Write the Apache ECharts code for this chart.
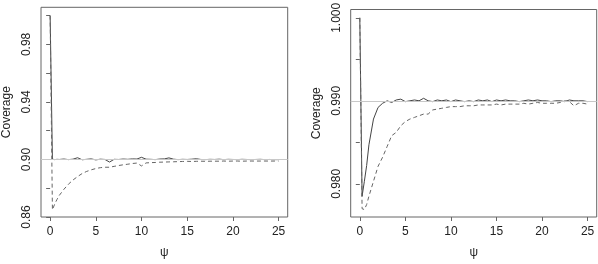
<!DOCTYPE html>
<html>
<head>
<meta charset="utf-8">
<script src="https://cdn.jsdelivr.net/npm/echarts@6/dist/echarts.min.js"></script>
<style>
html,body{margin:0;padding:0;background:#fff;}
#c{width:598px;height:264px;}
</style>
</head>
<body>
<div id="c"></div>
<script>
// psi grid shared by all curves
const psi = [0,0.25,0.5,0.75,1,1.5,2,2.5,3,3.5,4,4.5,5,5.5,6,6.5,7,7.5,8,8.5,9,9.5,10,10.5,11,11.5,12,12.5,13,13.5,14,14.5,15,15.5,16,16.5,17,17.5,18,18.5,19,19.5,20,20.5,21,21.5,22,22.5,23,23.5,24,24.5,25];

// Left panel (nominal 0.90)
const leftSolid = [1.0,0.9002,0.8999,0.9001,0.9000,0.9003,0.8999,0.9002,0.9012,0.8998,0.9001,0.9004,0.8997,0.9002,0.9000,0.8982,0.9001,0.9000,0.9003,0.9001,0.9004,0.9003,0.9015,0.9002,0.9001,0.8999,0.9003,0.9004,0.9011,0.9002,0.8999,0.9001,0.9000,0.9002,0.9005,0.9000,0.8999,0.9001,0.9000,0.9002,0.8999,0.9001,0.9000,0.8999,0.9001,0.9000,0.8999,0.9000,0.9001,0.8999,0.9000,0.8999,0.8999];
const leftDashed = [1.0,0.8650,0.8690,0.8722,0.8750,0.8792,0.8828,0.8857,0.8881,0.8902,0.8917,0.8928,0.8937,0.8943,0.8946,0.8946,0.8952,0.8958,0.8963,0.8967,0.8972,0.8975,0.8955,0.8976,0.8978,0.8979,0.8981,0.8982,0.8983,0.8984,0.8985,0.8986,0.8987,0.8986,0.8987,0.8988,0.8987,0.8988,0.8988,0.8988,0.8989,0.8988,0.8989,0.8989,0.8988,0.8989,0.8989,0.8989,0.8989,0.8989,0.8989,0.8989,0.8989];

// Right panel (nominal 0.99)
const rightSolid = [1.0,0.9785,0.9803,0.9822,0.9847,0.9878,0.9892,0.9897,0.9900,0.9898,0.9901,0.9902,0.9899,0.9900,0.9901,0.9900,0.9903,0.9900,0.9899,0.9901,0.9900,0.9901,0.9899,0.9901,0.9900,0.9899,0.9900,0.9899,0.9901,0.9900,0.9901,0.9899,0.9901,0.9900,0.9901,0.9900,0.9900,0.9899,0.9900,0.9901,0.9900,0.9901,0.9900,0.9900,0.9899,0.9900,0.9900,0.9899,0.9901,0.9900,0.9900,0.9900,0.9899];
const rightDashed = [1.0,0.9770,0.9769,0.9775,0.9785,0.9803,0.9821,0.9832,0.9845,0.9858,0.9862,0.9870,0.9875,0.9878,0.9880,0.9882,0.9884,0.9884,0.9889,0.9890,0.9891,0.9892,0.9893,0.9893,0.9893,0.9894,0.9894,0.9894,0.9895,0.9895,0.9895,0.9895,0.9896,0.9895,0.9896,0.9896,0.9896,0.9896,0.9897,0.9896,0.9897,0.9898,0.9897,0.9897,0.9897,0.9897,0.9898,0.9900,0.9899,0.9894,0.9897,0.9897,0.9896];

// Tick / label values
const xTicks = [0,5,10,15,20,25];
const leftYTicks = [0.86,0.88,0.90,0.92,0.94,0.96,0.98,1.00];
const leftYLabels = [0.86,0.90,0.94,0.98];
const rightYTicks = [0.980,0.985,0.990,0.995,1.000];
const rightYLabels = [0.980,0.990,1.000];
const refLeft = 0.90, refRight = 0.99;

const FONT = '"Liberation Sans", Arial, sans-serif';
const TXT = '#222';
const AX = '#666';

function pairs(ys){ return psi.map((x,i)=>[x, ys[i]]); }

function xAxisFor(gi){
  return {
    gridIndex: gi, type:'value', min:-1, max:26,
    name:'ψ', nameLocation:'middle', nameGap:30,
    nameTextStyle:{fontFamily:FONT, fontSize:12, color:TXT},
    axisLine:{show:false}, splitLine:{show:false},
    axisTick:{show:true, inside:false, length:4, lineStyle:{color:AX}, customValues:xTicks},
    axisLabel:{fontFamily:FONT, fontSize:12, color:TXT, margin:9, customValues:xTicks}
  };
}
function yAxisFor(gi, min, max, ticks, labels, dec){
  return {
    gridIndex: gi, type:'value', min:min, max:max,
    name:'Coverage', nameLocation:'middle', nameGap:28,
    nameTextStyle:{fontFamily:FONT, fontSize:12, color:TXT},
    axisLine:{show:false}, splitLine:{show:false},
    axisTick:{show:true, inside:false, length:4, lineStyle:{color:AX}, customValues:ticks},
    axisLabel:{fontFamily:FONT, fontSize:12, color:TXT, margin:8, rotate:90,
      customValues:labels, formatter:(v)=>Number(v).toFixed(dec)}
  };
}
function lineSeries(gi, ys, dashed){
  return {
    type:'line', xAxisIndex:gi, yAxisIndex:gi, data:pairs(ys),
    symbol:'none', z:3, silent:true,
    lineStyle:{color: dashed ? '#666' : '#444', width:1, type: dashed ? [4,3] : 'solid'}
  };
}
function refSeries(gi, y){
  return {
    type:'line', xAxisIndex:gi, yAxisIndex:gi, data:[], z:1, silent:true,
    markLine:{silent:true, symbol:['none','none'], label:{show:false},
      lineStyle:{color:'#c8c8c8', width:1, type:'solid'},
      data:[{yAxis:y}]}
  };
}

const chart = echarts.init(document.getElementById('c'), null, {renderer:'canvas'});
chart.setOption({
  animation:false,
  backgroundColor:'#fff',
  grid:[
    {left:41, top:7.3, width:246.7, height:215, show:true, borderColor:AX, borderWidth:1, backgroundColor:'transparent'},
    {left:350.7, top:7.3, width:246, height:215, show:true, borderColor:AX, borderWidth:1, backgroundColor:'transparent'}
  ],
  xAxis:[xAxisFor(0), xAxisFor(1)],
  yAxis:[
    yAxisFor(0, 0.86, 1.0058, leftYTicks, leftYLabels, 2),
    yAxisFor(1, 0.976, 1.001, rightYTicks, rightYLabels, 3)
  ],
  series:[
    refSeries(0, refLeft),
    lineSeries(0, leftSolid, false),
    lineSeries(0, leftDashed, true),
    refSeries(1, refRight),
    lineSeries(1, rightSolid, false),
    lineSeries(1, rightDashed, true)
  ]
});
</script>
</body>
</html>
